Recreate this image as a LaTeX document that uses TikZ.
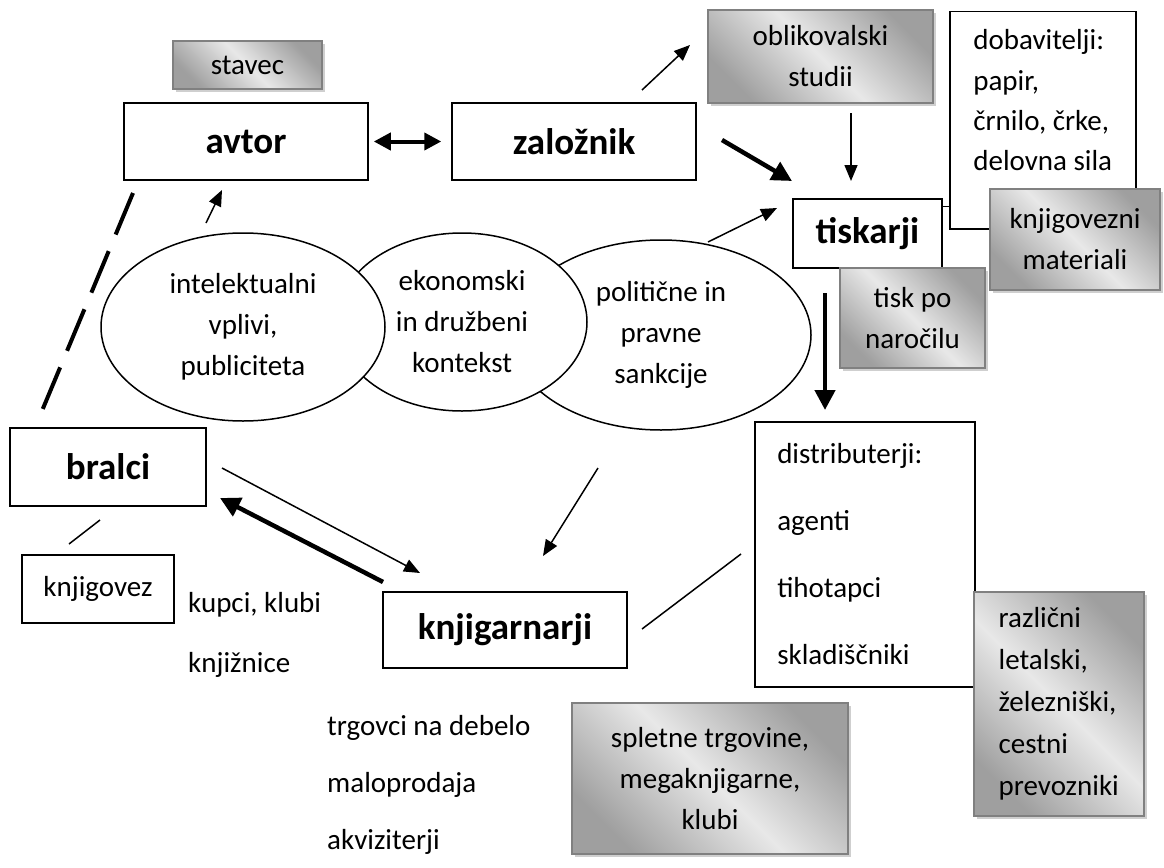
\documentclass[tikz,border=0pt]{standalone}
\usepackage{fontspec}
\setmainfont{Carlito}
\usetikzlibrary{shapes.geometric, arrows.meta, shadows}

\newcommand{\txtfont}{\fontsize{29}{41}\selectfont}
\newcommand{\boldfont}{\fontsize{37}{44}\selectfont\bfseries}

\begin{document}
\begin{tikzpicture}[x=1pt, y=-1pt,
    actor/.style={
        rectangle,
        draw,
        fill=white,
        line width=1.5pt,
        inner sep=0pt,
        font=\boldfont
    },
    plain/.style={
        rectangle,
        draw,
        fill=white,
        line width=1.5pt,
        inner sep=0pt,
        font=\txtfont
    },
    listbox/.style={
        rectangle,
        draw,
        fill=white,
        line width=1.5pt,
        inner xsep=22.5pt,
        inner ysep=8pt,
        align=left,
        font=\txtfont
    },
    shadebox/.style={
        rectangle,
        draw=gray,
        line width=1.5pt,
        top color=gray!75,
        bottom color=gray!75,
        middle color=gray!18,
        shading angle=-45,
        drop shadow={shadow xshift=3pt, shadow yshift=-3pt, fill=gray!38, opacity=1},
        inner sep=0pt,
        align=center,
        font=\txtfont
    },
    context/.style={
        ellipse,
        draw,
        fill=white,
        line width=1.5pt,
        inner sep=0pt,
        align=center,
        font=\txtfont
    },
    loose/.style={inner sep=0pt, anchor=base west, font=\txtfont},
    arr/.style={-{Triangle[length=16pt, width=13pt]}, line width=1.5pt},
    thickarr/.style={-{Triangle[length=20pt, width=20pt]}, line width=4.5pt},
    link/.style={line width=1.5pt}
]
    \useasboundingbox (0,0) rectangle (1164,867);

    % Context ellipses (right one at the back)
    \node[context, minimum width=300pt, minimum height=190pt] (politicne) at (661,335) {politične in\\pravne\\sankcije};
    \node[context, minimum width=250pt, minimum height=178pt] (ekonomski) at (462,322) {ekonomski\\in družbeni\\kontekst};
    \node[context, minimum width=284pt, minimum height=188pt] (intelekt) at (243,327) {intelektualni\\vplivi,\\publiciteta};

    % Actors
    \node[actor, minimum width=244pt, minimum height=77pt] (avtor) at (246,141.5) {avtor};
    \node[actor, minimum width=244pt, minimum height=77pt] (zaloznik) at (574,141.5) {založnik};
    \node[actor, minimum width=149pt, minimum height=69pt] (tiskarji) at (867.5,233.5) {tiskarji};
    \node[actor, minimum width=196pt, minimum height=78pt] (bralci) at (108,467) {bralci};
    \node[actor, minimum width=244pt, minimum height=76pt] (knjigarnarji) at (505,630) {knjigarnarji};
    \node[plain, minimum width=152pt, minimum height=68pt] (knjigovez) at (98,589) {knjigovez};

    % Suppliers and distributors
    \node[listbox, minimum width=186pt, minimum height=217pt, anchor=north west,
          font=\fontsize{29}{40.3}\selectfont] (dobavitelji) at (949,11)
          {dobavitelji:\\papir,\\črnilo, črke,\\delovna sila\\ };
    \node[listbox, text width=175pt, minimum height=265pt, anchor=north west,
          font=\fontsize{29}{67}\selectfont] (distributerji) at (754,421)
          {distributerji:\\agenti\\tihotapci\\skladiščniki};

    % Shaded boxes
    \node[shadebox, minimum width=149pt, minimum height=48pt] (stavec) at (247.5,65) {stavec};
    \node[shadebox, minimum width=225pt, minimum height=93pt] (oblikovalski) at (820.5,56.5) {oblikovalski\\studii};
    \node[shadebox, minimum width=170pt, minimum height=101pt] (knjigovezni) at (1075,239.5) {knjigovezni\\materiali};
    \node[shadebox, minimum width=145pt, minimum height=100pt] (tisk) at (912.5,318) {tisk po\\naročilu};
    \node[shadebox, minimum width=276pt, minimum height=151pt] (spletne) at (710,778.5) {spletne trgovine,\\megaknjigarne,\\klubi};
    \node[shadebox, align=left, minimum width=170pt, minimum height=224pt,
          anchor=north west, font=\fontsize{29}{42}\selectfont] (razlicni) at (973,591)
          {različni\\letalski,\\železniški,\\cestni\\prevozniki};

    % Loose labels
    \node[loose] (kupci) at (188,612) {kupci, klubi};
    \node[loose] (knjiznice) at (188,672) {knjižnice};
    \node[loose] (trgovci) at (327,735) {trgovci na debelo};
    \node[loose] (maloprodaja) at (327,792) {maloprodaja};
    \node[loose] (akviziterji) at (327,849) {akviziterji};

    % Free ends of the connectors
    \coordinate (zo1) at (642,90);   \coordinate (zo2) at (690,45);
    \coordinate (ot1) at (851,113);  \coordinate (ot2) at (851,181);
    \coordinate (zt1) at (722,140);  \coordinate (zt2) at (792,181);
    \coordinate (et1) at (708,242);  \coordinate (et2) at (777,208);
    \coordinate (td1) at (825,293);  \coordinate (td2) at (825,410);
    \coordinate (ea1) at (206,223);  \coordinate (ea2) at (222,190);
    \coordinate (ab1) at (133,193);  \coordinate (ab2) at (39,418);
    \coordinate (bk1) at (222,468);  \coordinate (bk2) at (420,573);
    \coordinate (kb1) at (383,582);  \coordinate (kb2) at (220,498);
    \coordinate (ek1) at (598,468);  \coordinate (ek2) at (543,556);
    \coordinate (bv1) at (100,520);  \coordinate (bv2) at (69,544);
    \coordinate (kd1) at (642,629);  \coordinate (kd2) at (741,554);

    % Connections
    \draw[{Triangle[length=17pt, width=17pt]}-{Triangle[length=17pt, width=17pt]}, line width=4pt,
          shorten <=5pt, shorten >=10pt] (avtor.east) -- (zaloznik.west);
    \draw[arr] (zo1) -- (zo2);
    \draw[arr] (ot1) -- (ot2);
    \draw[thickarr] (zt1) -- (zt2);
    \draw[arr] (et1) -- (et2);
    \draw[thickarr] (td1) -- (td2);
    \draw[arr] (ea1) -- (ea2);
    \draw[line width=4pt, dash pattern=on 45pt off 18pt] (ab1) -- (ab2);
    \draw[arr] (bk1) -- (bk2);
    \draw[thickarr] (kb1) -- (kb2);
    \draw[arr] (ek1) -- (ek2);
    \draw[link] (bv1) -- (bv2);
    \draw[link] (kd1) -- (kd2);
    \draw[link] ([yshift=-8pt]tiskarji.north east) -- ([yshift=-8pt]tiskarji.north east -| dobavitelji.west);

\end{tikzpicture}
\end{document}
